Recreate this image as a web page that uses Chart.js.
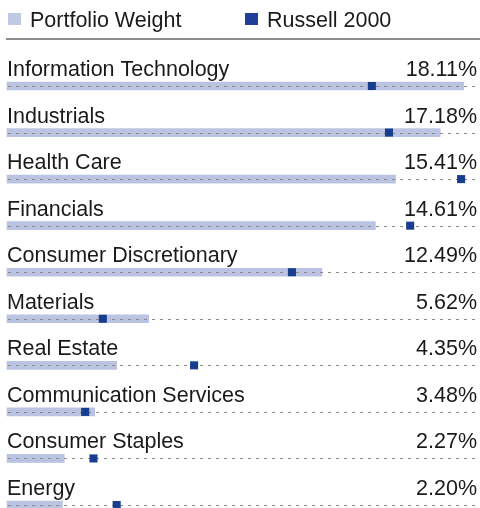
<!DOCTYPE html>
<html>
<head>
<meta charset="utf-8">
<script src="https://cdn.jsdelivr.net/npm/chart.js@4.4.1/dist/chart.umd.min.js"></script>
<style>
  html, body { margin: 0; padding: 0; background: #fff; }
  #wrap { width: 480px; height: 508px; }
</style>
</head>
<body>
<div id="wrap"><canvas id="sectorChart" width="480" height="508"></canvas></div>
<script>
const sectors = ['Information Technology', 'Industrials', 'Health Care', 'Financials',
                 'Consumer Discretionary', 'Materials', 'Real Estate',
                 'Communication Services', 'Consumer Staples', 'Energy'];
const portfolioWeights = [18.11, 17.18, 15.41, 14.61, 12.49, 5.62, 4.35, 3.48, 2.27, 2.20];
const russellWeights = [14.47, 15.15, 18.01, 15.99, 11.30, 3.80, 7.42, 3.10, 3.43, 4.35];
const valueLabels = portfolioWeights.map(v => v.toFixed(2) + '%');

const FONT = '21.5px "Liberation Sans", Arial, Helvetica, sans-serif';
const TEXT_COLOR = '#1a1a1a';

// legend across the top with the grey rule under it
const topLegend = {
  id: 'topLegend',
  afterDraw(chart) {
    const ctx = chart.ctx;
    const starts = [8, 245];
    ctx.save();
    ctx.font = FONT;
    ctx.textBaseline = 'alphabetic';
    chart.data.datasets.forEach((ds, i) => {
      const x = starts[i];
      ctx.fillStyle = ds.legendColor;
      ctx.fillRect(x, 13, 13, 12);
      ctx.fillStyle = TEXT_COLOR;
      ctx.fillText(ds.label, x + 22, 27);
    });
    ctx.strokeStyle = '#8c8c8c';
    ctx.lineWidth = 2;
    ctx.beginPath();
    ctx.moveTo(6, 39);
    ctx.lineTo(480, 39);
    ctx.stroke();
    ctx.restore();
  }
};

// dotted guide over each bar, under the index markers
const rowGuides = {
  id: 'rowGuides',
  afterDatasetDraw(chart, args) {
    if (args.index !== 0) return;
    const ctx = chart.ctx;
    const yScale = chart.scales.y;
    const area = chart.chartArea;
    ctx.save();
    ctx.strokeStyle = '#8a8a8a';
    ctx.lineWidth = 1;
    ctx.setLineDash([3, 5]);
    sectors.forEach((s, i) => {
      const y = Math.round(yScale.getPixelForValue(i)) + 0.5;
      ctx.beginPath();
      ctx.moveTo(area.left + 1, y);
      ctx.lineTo(area.right, y);
      ctx.stroke();
    });
    ctx.restore();
  }
};

// sector name on the left and weight on the right above each bar
const rowLabels = {
  id: 'rowLabels',
  afterDraw(chart) {
    const ctx = chart.ctx;
    const yScale = chart.scales.y;
    const area = chart.chartArea;
    ctx.save();
    ctx.font = FONT;
    ctx.fillStyle = TEXT_COLOR;
    ctx.textBaseline = 'alphabetic';
    sectors.forEach((s, i) => {
      const y = yScale.getPixelForValue(i) - 10;
      ctx.textAlign = 'left';
      ctx.fillText(s, area.left, y);
      ctx.textAlign = 'right';
      ctx.fillText(valueLabels[i], area.right - 1, y);
    });
    ctx.restore();
  }
};

new Chart(document.getElementById('sectorChart'), {
  type: 'bar',
  data: {
    labels: sectors,
    datasets: [
      {
        label: 'Portfolio Weight',
        data: portfolioWeights,
        backgroundColor: '#bac3e1',
        legendColor: '#c1c8e4',
        barThickness: 8,
        borderSkipped: false,
        clip: false,
        order: 2
      },
      {
        type: 'line',
        label: 'Russell 2000',
        data: russellWeights,
        showLine: false,
        pointStyle: 'rect',
        pointRadius: 5.7,
        pointHoverRadius: 5.7,
        pointBackgroundColor: '#173d8e',
        pointBorderWidth: 0,
        legendColor: '#213f98',
        clip: false,
        order: 1
      }
    ]
  },
  options: {
    indexAxis: 'y',
    responsive: false,
    animation: false,
    layout: { autoPadding: false, padding: { left: 7, right: 2, top: 86, bottom: 3 } },
    plugins: {
      legend: { display: false },
      tooltip: { enabled: false }
    },
    scales: {
      x: { type: 'linear', min: 0, max: 18.68, display: false },
      y: { type: 'category', offset: false, display: false }
    }
  },
  plugins: [rowGuides, rowLabels, topLegend]
});
</script>
</body>
</html>
